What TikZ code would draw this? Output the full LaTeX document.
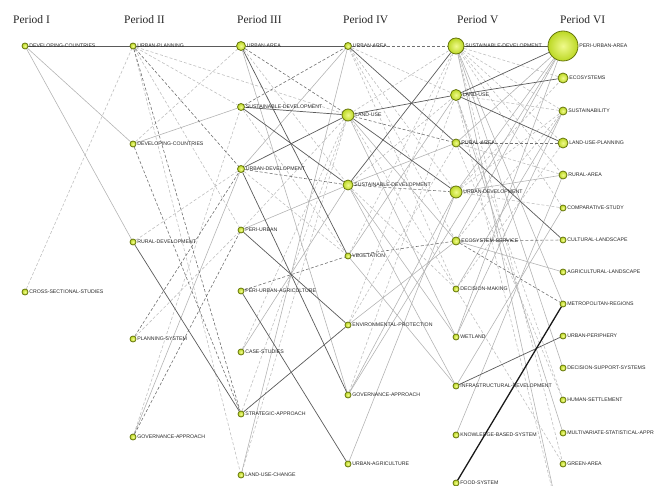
\documentclass[tikz,border=0pt]{standalone}
\usepackage{fontspec}
\setmainfont{Liberation Serif}
\newfontfamily\lblfont{Liberation Sans}
\usetikzlibrary{backgrounds}

\definecolor{kwin}{HTML}{F0FA8C}
\definecolor{kwout}{HTML}{BCD824}
\definecolor{kwrim}{HTML}{66760C}
\definecolor{strongc}{HTML}{5A5A5A}
\definecolor{weakc}{HTML}{B4B4B4}
\definecolor{sdashc}{HTML}{707070}
\definecolor{wdashc}{HTML}{C0C0C0}

\tikzset{
  kw/.style={circle, inner sep=0pt, draw=kwrim, line width=0.8pt,
             inner color=kwin, outer color=kwout},
  lbl/.style={font=\lblfont\fontsize{5.2}{6}\selectfont, text=black!85,
              inner sep=0.5pt},
  heading/.style={font=\fontsize{11.5}{13}\selectfont, text=black!85,
                  anchor=base west, inner sep=0pt},
  strong/.style={draw=strongc, line width=0.7pt},
  weak/.style={draw=weakc, line width=0.6pt},
  sdash/.style={draw=sdashc, line width=0.6pt, dash pattern=on 3pt off 2pt},
  wdash/.style={draw=wdashc, line width=0.6pt, dash pattern=on 3pt off 2pt},
  heavy/.style={draw=black!90, line width=1.3pt}
}

% keyword node: name, x, y, diameter, text
\newcommand\kwd[5]{\node[kw, minimum size=#4pt,
  label={[lbl, label distance=0.2pt]right:#5}] (#1) at (#2,#3) {};}

\begin{document}
\begin{tikzpicture}[x=1pt, y=-1pt]
\useasboundingbox (0,0) rectangle (658,486);

% period headings
\node[heading] (h1) at (13,24)  {Period I};
\node[heading] (h2) at (124,24) {Period II};
\node[heading] (h3) at (237,24) {Period III};
\node[heading] (h4) at (343,24) {Period IV};
\node[heading] (h5) at (457,24) {Period V};
\node[heading] (h6) at (560,24) {Period VI};

% Period I
\kwd{a1}{25}{46}{6}{DEVELOPING-COUNTRIES}
\kwd{a2}{25}{292}{6}{CROSS-SECTIONAL-STUDIES}

% Period II
\kwd{b1}{133}{46}{6}{URBAN-PLANNING}
\kwd{b2}{133}{144}{6}{DEVELOPING-COUNTRIES}
\kwd{b3}{133}{242}{6}{RURAL-DEVELOPMENT}
\kwd{b4}{133}{339}{6}{PLANNING-SYSTEM}
\kwd{b5}{133}{437}{6}{GOVERNANCE-APPROACH}

% Period III
\kwd{c1}{241}{46}{9}{URBAN-AREA}
\kwd{c2}{241}{107}{7}{SUSTAINABLE-DEVELOPMENT}
\kwd{c3}{241}{169}{7}{URBAN-DEVELOPMENT}
\kwd{c4}{241}{230}{6}{PERI-URBAN}
\kwd{c5}{241}{291}{6}{PERI-URBAN-AGRICULTURE}
\kwd{c6}{241}{352}{6}{CASE-STUDIES}
\kwd{c7}{241}{414}{6}{STRATEGIC-APPROACH}
\kwd{c8}{241}{475}{6}{LAND-USE-CHANGE}

% Period IV
\kwd{d1}{348}{46}{7}{URBAN-AREA}
\kwd{d2}{348}{115}{12}{LAND-USE}
\kwd{d3}{348}{185}{10}{SUSTAINABLE-DEVELOPMENT}
\kwd{d4}{348}{256}{6}{VEGETATION}
\kwd{d5}{348}{325}{6}{ENVIRONMENTAL-PROTECTION}
\kwd{d6}{348}{395}{6}{GOVERNANCE-APPROACH}
\kwd{d7}{348}{464}{6}{URBAN-AGRICULTURE}

% Period V
\kwd{e1}{456}{46}{16}{SUSTAINABLE-DEVELOPMENT}
\kwd{e2}{456}{95}{11}{LAND-USE}
\kwd{e3}{456}{143}{8}{RURAL-AREA}
\kwd{e4}{456}{192}{12}{URBAN-DEVELOPMENT}
\kwd{e5}{456}{241}{8}{ECOSYSTEM-SERVICE}
\kwd{e6}{456}{289}{6}{DECISION-MAKING}
\kwd{e7}{456}{337}{6}{WETLAND}
\kwd{e8}{456}{386}{6}{INFRASTRUCTURAL-DEVELOPMENT}
\kwd{e9}{456}{435}{6}{KNOWLEDGE-BASED-SYSTEM}
\kwd{e10}{456}{483}{6}{FOOD-SYSTEM}

% Period VI
\kwd{f1}{563}{46}{30}{PERI-URBAN-AREA}
\kwd{f2}{563}{78}{10}{ECOSYSTEMS}
\kwd{f3}{563}{111}{8}{SUSTAINABILITY}
\kwd{f4}{563}{143}{10}{LAND-USE-PLANNING}
\kwd{f5}{563}{175}{8}{RURAL-AREA}
\kwd{f6}{563}{208}{6}{COMPARATIVE-STUDY}
\kwd{f7}{563}{240}{6}{CULTURAL-LANDSCAPE}
\kwd{f8}{563}{272}{6}{AGRICULTURAL-LANDSCAPE}
\kwd{f9}{563}{304}{6}{METROPOLITAN-REGIONS}
\kwd{f10}{563}{336}{6}{URBAN-PERIPHERY}
\kwd{f11}{563}{368}{6}{DECISION-SUPPORT-SYSTEMS}
\kwd{f12}{563}{400}{6}{HUMAN-SETTLEMENT}
\kwd{f13}{563}{433}{6}{MULTIVARIATE-STATISTICAL-APPR}
\kwd{f14}{563}{464}{6}{GREEN-AREA}

% links that continue below the lower edge
\coordinate (below) at (562,530);

% evolution links, drawn beneath the keyword nodes
\begin{scope}[on background layer]
  % light dashed links
  \foreach \u/\v in {a2/b1, b1/c2, b1/c4, b1/c8, b1/d2, b2/c1, b3/c3, b4/c4,
      b5/c2, c1/d3, c2/d4, c3/d4, c4/d2, c6/d2, c7/d2, c8/d2,
      d1/e2, d1/e4, d1/e5, d1/e6, d2/e1, d2/e6, d3/e2, d3/e6, d4/e1, d5/e1,
      d5/e3, d6/e2,
      e1/f2, e1/f3, e1/f4, e1/f5, e1/f6, e1/f14, e2/f3, e2/f12, e3/f5, e3/f12,
      e4/f2, e4/f3, e4/f6, e5/f3, e6/f4, e6/f14, e2/below}
    \draw[wdash] (\u) -- (\v);
  % light solid links
  \foreach \u/\v in {a1/b2, a1/b3, b2/c2, b5/c3, c1/d6, c3/d1, c4/d3, c6/d3,
      c8/d1, d2/e5, d2/e7, d3/e3, d3/e7, d3/e8, d4/e2, d4/e8, d5/e5, d6/e4,
      d7/e4, d6/f1, e1/f9, e1/f11, e3/f1, e4/f1, e4/f5, e5/f1, e5/f8,
      e6/f3, e7/f1, e7/f3, e8/f6, e9/f5, e2/f13, e1/below}
    \draw[weak] (\u) -- (\v);
  % dark dashed links
  \foreach \u/\v in {b1/c3, b1/c7, b2/c7, b4/c3, b5/c4, c1/d2, c2/d1, c3/d3,
      c5/d4, d1/e1, d2/e3, d3/e4, d4/e5, e3/f4, e5/f7, e5/f9}
    \draw[sdash] (\u) -- (\v);
  % dark solid links
  \foreach \u/\v in {a1/b1, b1/c1, c1/d1, b3/c7, c1/d4, c2/d2, c2/d3, c3/d2,
      c3/d6, c4/d5, c5/d7, c7/d5, d1/e3, d2/e2, d2/e4, d3/e1,
      e1/f1, e2/f1, e2/f2, e2/f4, e3/f7, e8/f10}
    \draw[strong] (\u) -- (\v);
  \draw[heavy] (e10) -- (f9);
\end{scope}
\end{tikzpicture}
\end{document}
